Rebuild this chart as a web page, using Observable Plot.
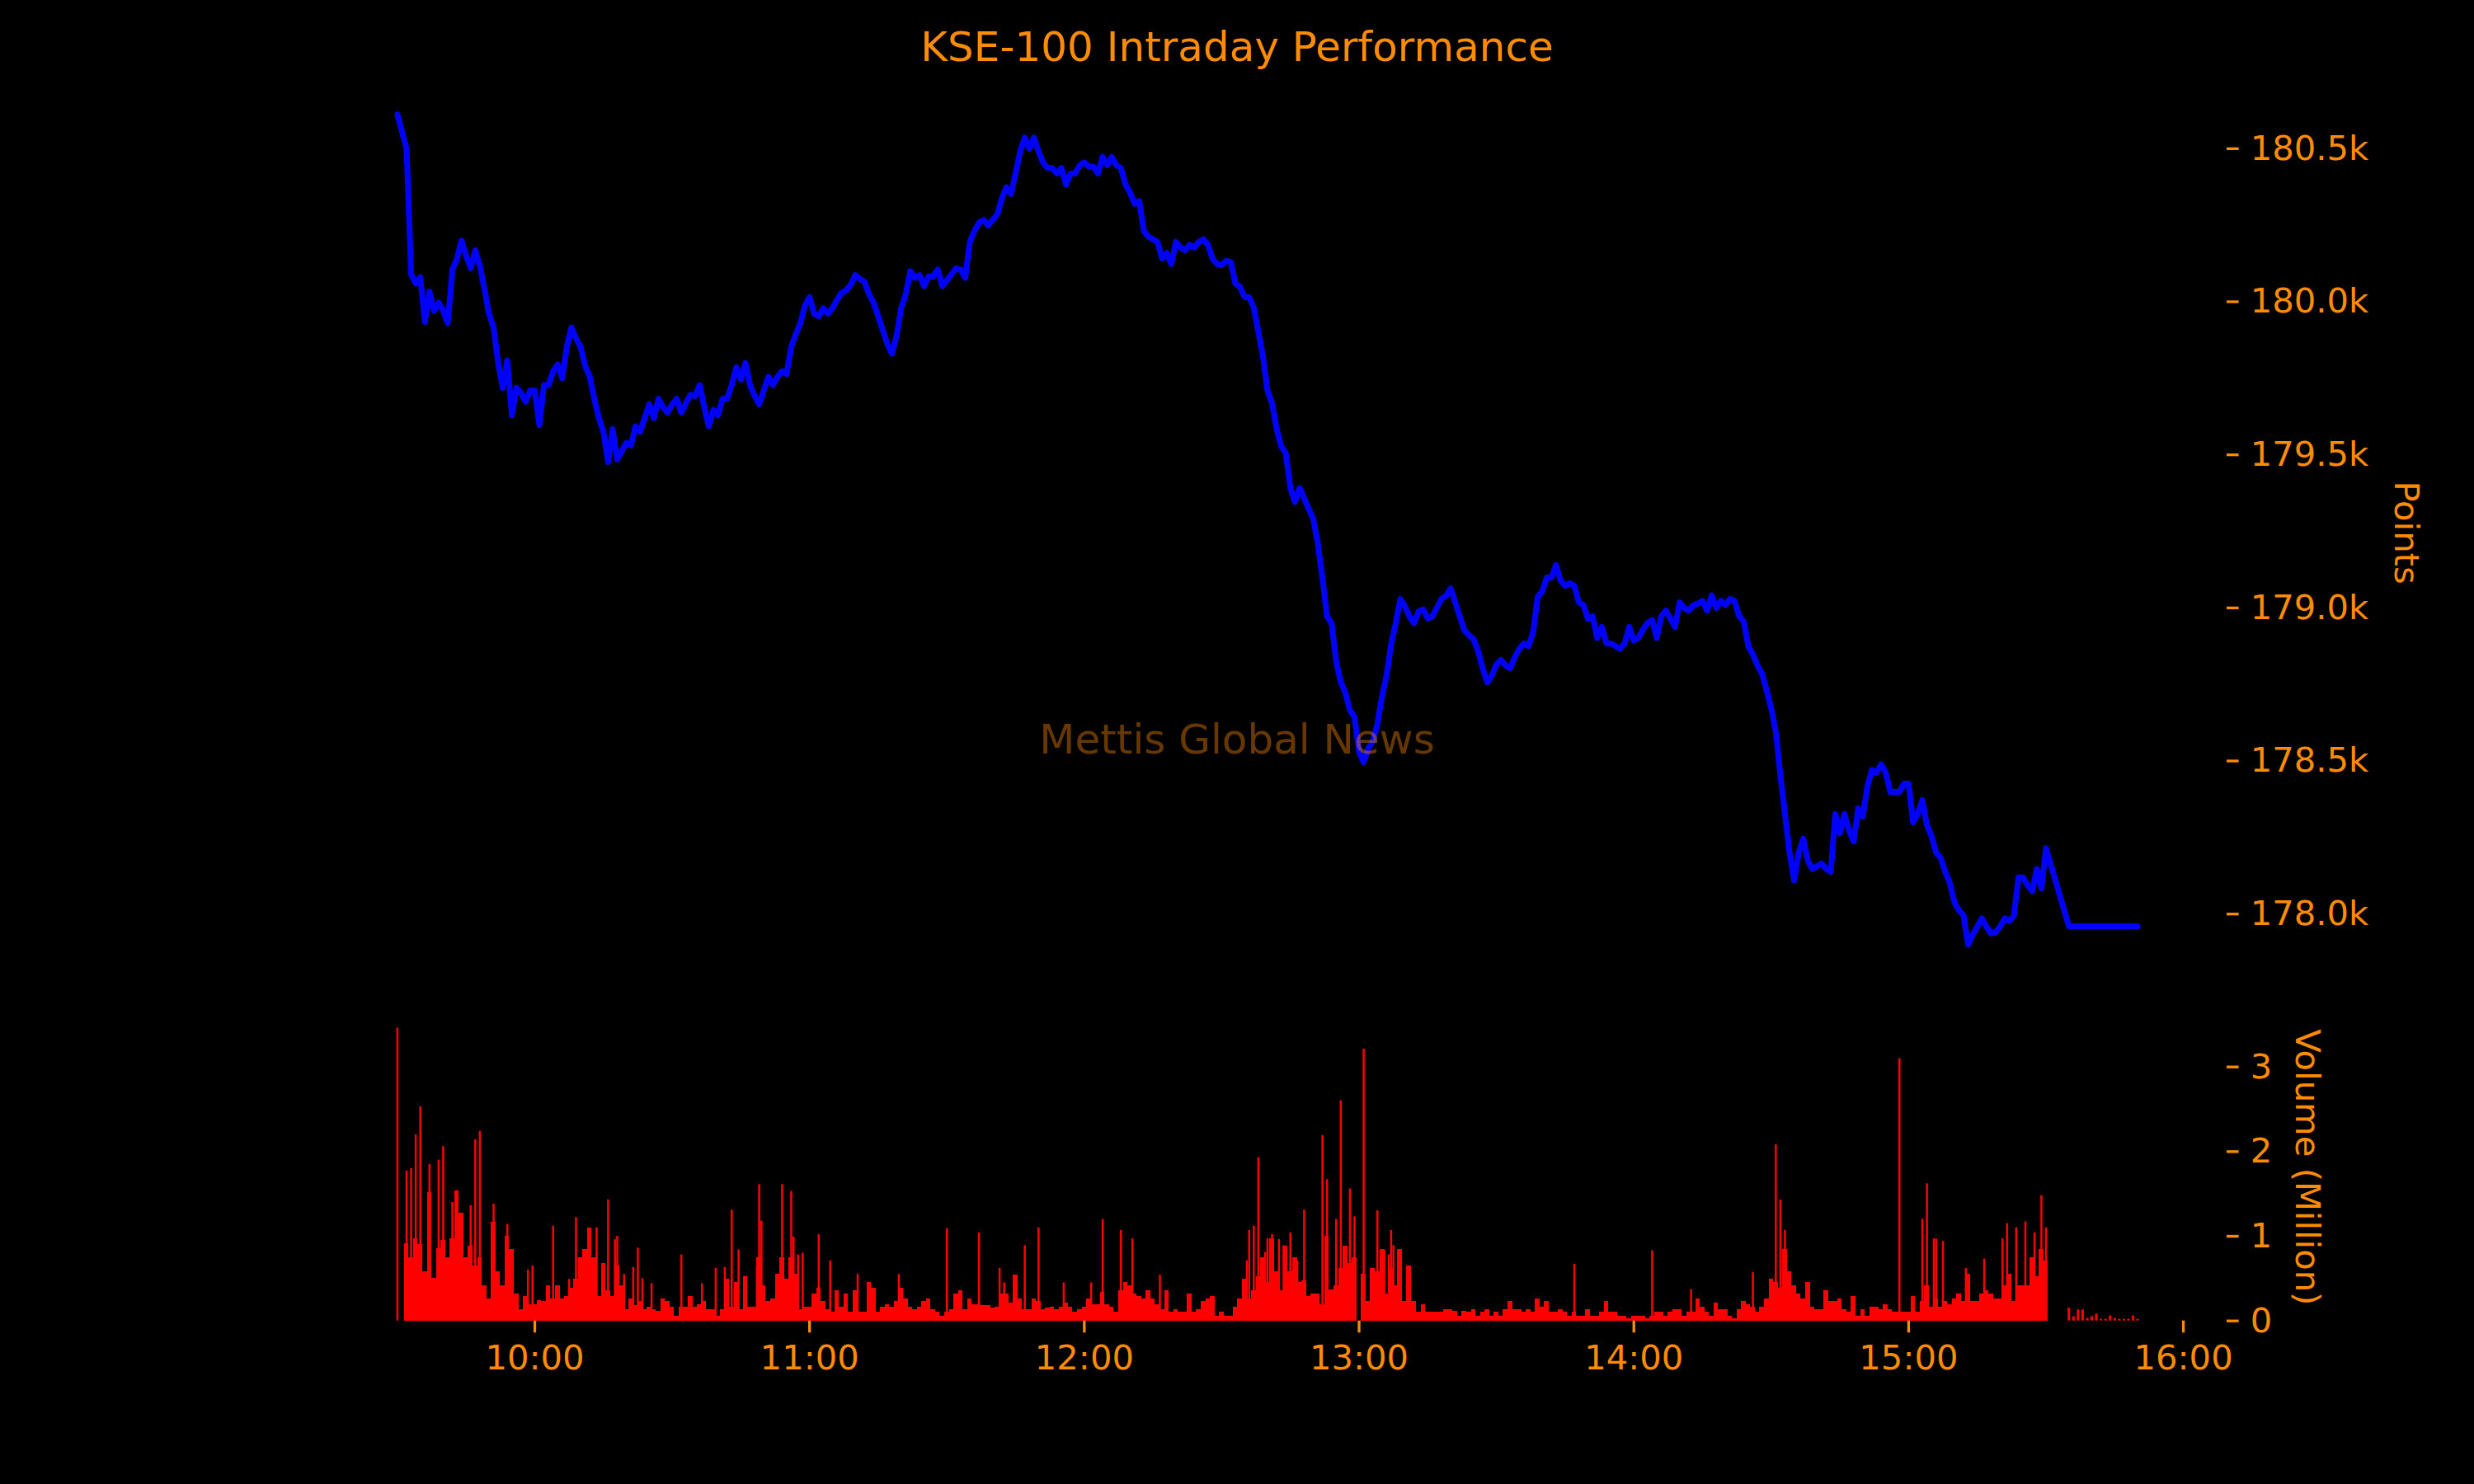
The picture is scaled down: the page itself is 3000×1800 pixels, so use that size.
<!DOCTYPE html>
<html>
<head>
<meta charset="utf-8">
<script src="https://cdn.jsdelivr.net/npm/d3@7"></script>
<script src="https://cdn.jsdelivr.net/npm/@observablehq/plot@0.6"></script>
<style>
html,body{margin:0;padding:0;background:#000;}
#chart{position:relative;width:3000px;height:1800px;background:#000;overflow:hidden;font-family:"DejaVu Sans";}
#title{position:absolute;left:0;width:3000px;top:27px;text-align:center;font-size:50px;line-height:60px;color:#ff8c00;z-index:3;}
#watermark{position:absolute;left:0;width:3000px;top:867px;text-align:center;font-size:50px;line-height:60px;color:#ff8c00;opacity:0.4;z-index:3;}
#price,#volume{position:absolute;left:0;}
#price{top:0;}
#volume{top:1215px;}
</style>
</head>
<body>
<div id="chart">
  <div id="price"></div>
  <div id="volume"></div>
  <div id="title">KSE-100 Intraday Performance</div>
  <div id="watermark">Mettis Global News</div>
</div>
<script>
// ---------------- DATA ----------------
const openTime = "09:30";
const openPrice = 180612;
const sessionStart = "09:32"; // one value per minute from 09:32 to 15:30
const sessionPrice = [
180500,180090,180060,180080,179934,180033,179970,179997,179970,179930,
180105,180140,180200,180150,180110,180168,180118,180042,179961,179916,
179800,179719,179808,179629,179719,179701,179674,179710,179710,179597,
179728,179728,179773,179795,179750,179853,179916,179880,179853,179790,
179755,179683,179620,179575,179476,179584,179485,179512,179539,179530,
179593,179575,179620,179665,179620,179683,179656,179638,179665,179683,
179638,179669,179696,179692,179728,179656,179593,179647,179629,179683,
179683,179728,179786,179746,179800,179728,179692,179665,179710,179755,
179728,179755,179773,179764,179853,179894,179930,179988,180015,179961,
179952,179979,179961,179979,180006,180029,180038,180056,180087,180074,
180065,180024,179997,179952,179907,179862,179830,179889,179979,180024,
180100,180078,180087,180051,180083,180083,180105,180051,180070,180090,
180109,180105,180078,180195,180231,180258,180267,180249,180267,180285,
180338,180374,180352,180419,180491,180536,180500,180536,180491,180455,
180437,180437,180419,180437,180383,180419,180419,180446,180455,180441,
180441,180419,180473,180446,180473,180446,180437,180383,180356,180320,
180329,180231,180213,180204,180195,180141,180159,180123,180195,180177,
180168,180186,180177,180195,180204,180186,180141,180123,180120,180134,
180129,180060,180049,180015,180015,179981,179902,179822,179709,179669,
179584,179528,179505,179392,179346,179392,179358,179324,179290,179210,
179097,178972,178950,178825,178757,178723,178666,178643,178530,178496,
178541,178564,178621,178711,178779,178881,178950,179029,179006,178972,
178950,178989,178995,178966,178972,179001,179029,179040,179063,179018,
178972,178927,178910,178898,178859,178802,178757,178779,178815,178830,
178812,178803,178839,178866,178884,178875,178920,179036,179054,179099,
179099,179140,179090,179072,179081,179072,179018,179009,178964,178973,
178902,178938,178884,178884,178875,178866,178884,178938,178893,178902,
178929,178951,178960,178902,178973,178991,178964,178938,179018,179000,
178991,179009,179014,179023,178991,179041,179000,179023,179009,179029,
179023,178973,178956,178875,178848,178812,178785,178731,178672,178596,
178453,178327,178201,178110,178201,178246,178174,178147,178156,178165,
178147,178138,178327,178264,178327,178273,178237,178345,178318,178417,
178471,178462,178489,178462,178399,178399,178399,178426,178426,178300,
178327,178372,178291,178255,178201,178183,178138,178102,178039,178012,
177995,177900,177932,177959,177986,177959,177936,177941,177959,177986,
177977,177995,178120,178120,178093,178075,178147,178084,178215
];
const closeTimes = ["15:35","15:50"];
const closePrices = [177960,177960];

// Volume (million shares), one value per minute from 09:32 to 15:30
const sessionVolume = [
0.91,0.75,0.97,0.9,0.58,1.52,0.5,0.85,0.95,0.75,
0.97,1.54,1.27,0.75,0.88,0.65,0.75,0.42,0.26,1.17,
0.58,0.42,1.0,0.84,0.32,0.13,0.29,0.19,0.19,0.24,
0.23,0.42,0.26,0.42,0.26,0.29,0.39,0.49,0.75,0.84,
1.1,0.75,0.29,0.68,0.36,0.29,0.65,0.42,0.13,0.26,
0.18,0.23,0.13,0.16,0.13,0.11,0.26,0.23,0.16,0.06,
0.16,0.16,0.29,0.16,0.19,0.23,0.13,0.13,0.06,0.13,
0.49,0.16,0.45,0.13,0.52,0.16,0.16,0.75,0.42,0.23,
0.26,0.55,0.75,0.49,0.75,0.55,0.13,0.16,0.16,0.32,
0.39,0.23,0.13,0.1,0.36,0.16,0.32,0.1,0.36,0.1,
0.1,0.45,0.39,0.1,0.16,0.19,0.16,0.23,0.39,0.26,
0.16,0.13,0.16,0.23,0.26,0.13,0.1,0.06,0.1,0.13,
0.32,0.36,0.13,0.26,0.19,0.19,0.18,0.18,0.15,0.16,
0.32,0.32,0.21,0.54,0.26,0.13,0.13,0.26,0.23,0.13,
0.15,0.16,0.13,0.16,0.21,0.16,0.1,0.13,0.16,0.26,
0.19,0.19,0.34,0.19,0.16,0.1,0.36,0.45,0.42,0.32,
0.29,0.26,0.36,0.26,0.19,0.13,0.36,0.1,0.13,0.1,
0.1,0.32,0.1,0.13,0.23,0.26,0.29,0.06,0.1,0.06,
0.06,0.16,0.26,0.49,0.26,0.36,0.52,0.75,0.45,0.97,
0.58,0.36,0.88,0.58,0.75,0.45,0.47,0.29,0.32,0.32,
0.19,1.0,0.37,0.42,0.62,0.88,0.68,0.75,0,0.55,
0.23,0.62,0.58,0.84,0.32,0.62,0.42,0.84,0.23,0.65,
0.23,0.1,0.19,0.1,0.1,0.1,0.1,0.13,0.13,0.11,
0.06,0.11,0.1,0.13,0.06,0.1,0.13,0.06,0.1,0.06,
0.13,0.23,0.13,0.13,0.1,0.13,0.1,0.26,0.16,0.23,
0.1,0.1,0.13,0.1,0.06,0.1,0.06,0.06,0.13,0.06,
0.06,0.1,0.23,0.1,0.1,0.06,0.06,0.03,0.06,0.06,
0.06,0.03,0.06,0.1,0.1,0.06,0.1,0.13,0.13,0.06,
0.1,0.1,0.26,0.16,0.1,0.06,0.21,0.13,0.13,0.06,
0.03,0.13,0.23,0.19,0.16,0.1,0.16,0.26,0.49,0.45,
0.39,0.84,0.58,0.42,0.32,0.26,0.45,0.16,0.13,0.13,
0.36,0.23,0.23,0.26,0.13,0.1,0.29,0.06,0.13,0.06,
0.16,0.16,0.13,0.19,0.13,0.1,0.1,0.1,0.1,0.29,
0.1,0.23,0.42,0.16,0.26,0.16,0.23,0.19,0.26,0.32,
0.23,0.55,0.23,0.23,0.32,0.36,0.32,0.26,0.26,0.42,
0.55,0.23,0.42,0.42,0.42,0.75,0.52,0.84,0.71
];
// Individual large trades (time, million shares)
const spikeTimes = ["09:30","09:32","09:33","09:34","09:35","09:37","09:39","09:40","09:42","09:43",
  "09:46","09:47","09:48","09:51","09:54","10:04","10:09","10:16","10:18","10:32",
  "10:43","10:49","10:54","10:56","11:02","11:30","11:37","11:47","11:50","12:04",
  "12:08","12:36","12:37","12:38","12:40","12:41","12:45","12:48","12:52","12:53",
  "12:55","12:56","12:58","12:59","13:01","13:04","13:07","13:47","14:04","14:26",
  "14:31","14:32","14:33","14:58","15:03","15:04","15:06","15:29","15:30"];
const spikeVolume = [3.46,1.77,1.80,2.2,2.53,1.85,1.90,2.06,1.40,1.54,
  1.36,2.14,2.24,1.38,1.14,1.12,1.22,1.43,1.00,0.78,
  1.31,1.61,1.61,1.53,1.02,1.09,1.04,0.89,1.10,1.20,
  1.07,1.07,1.12,1.93,0.97,1.02,1.04,1.31,2.19,1.67,
  1.20,2.60,1.56,1.23,3.21,1.30,1.07,0.67,0.83,0.57,
  2.08,1.43,1.07,3.10,1.20,1.62,0.97,1.48,1.10];
// Medium-size trades (time, million shares)
const midTimes = ["09:58:30","09:59:30","10:07:30","10:13:30","10:17:30","10:19:30","10:21:30","10:22:30","10:23:30","10:25:30",
  "10:36:30","10:39:30","10:41:30","10:44:30","10:48:30","10:49:30","10:56:30","10:57:30","10:58:30","11:04:30",
  "11:10:30","11:19:30","11:41:30","11:42:30","11:55:30","12:01:30","12:10:30","12:16:30","12:35:30","12:39:30",
  "12:42:30","12:43:30","12:46:30","13:05:30","13:06:30","13:07:30","13:08:30","13:10:30","14:12:30","15:05:30",
  "15:07:30","15:12:30","15:16:30","15:20:30","15:21:30","15:23:30","15:25:30","15:27:30"];
const midVolume = [0.6,0.65,0.49,1.1,0.96,0.55,0.63,0.86,0.5,0.44,
  0.44,0.62,0.63,0.84,0.63,1.18,0.99,0.78,0.8,0.71,
  0.55,0.55,0.62,0.45,0.45,0.45,0.97,0.54,0.71,0.81,
  0.96,0.89,0.71,0.84,0.78,0.89,0.84,0.65,0.37,0.97,
  0.94,0.62,0.73,0.97,1.15,1.1,1.17,1.04];
// After-close trades, one per minute from 15:35 to 15:50
const postStart = "15:35";
const postVolume = [0.15,0.05,0.13,0.13,0.03,0.05,0.08,0.02,0.02,0.06,0.03,0.02,0.02,0.02,0.06,0.02];

const priceTicks = [178000,178500,179000,179500,180000,180500];
const volumeTicks = [0,1,2,3];
const hourTicks = ["10:00","11:00","12:00","13:00","14:00","15:00","16:00"];

// ---------------- BUILD ----------------
const T = s => { const [h,m,sec] = s.split(":").map(Number); return new Date(Date.UTC(2025,0,1,h,m,sec||0)); };
const addMin = (d,k) => new Date(+d + k*60000);

const priceData = [
  {t:T(openTime), v:openPrice},
  ...sessionPrice.map((v,i)=>({t:addMin(T(sessionStart),i), v})),
  ...closeTimes.map((s,i)=>({t:T(s), v:closePrices[i]}))
];
const volData = sessionVolume.map((v,i)=>({t:addMin(T(sessionStart),i), v}));
const spikeData = spikeTimes.map((s,i)=>({t:T(s), v:spikeVolume[i]}))
  .concat(midTimes.map((s,i)=>({t:T(s), v:midVolume[i]})));
const postData = postVolume.map((v,i)=>({t:addMin(T(postStart),i), v}));

const orange = "#ff8c00";
const xDomain = [T("09:11:01"), T("16:09:21")];
const common = {
  width:3000, marginLeft:376, marginRight:301,
  style:{background:"transparent", color:orange, fontFamily:"DejaVu Sans", fontSize:"41.7px", overflow:"visible"}
};

const pricePlot = Plot.plot({
  ...common, height:1215, marginTop:87, marginBottom:11,
  x:{type:"utc", domain:xDomain, axis:null},
  y:{domain:[177742,180750], axis:null},
  marks:[
    Plot.line(priceData,{x:"t", y:"v", stroke:"#0000ff", strokeWidth:7, strokeLinejoin:"round"}),
    Plot.axisY({anchor:"right", ticks:priceTicks, tickFormat:d=>(d/1000).toFixed(1)+"k",
      tickSize:14.6, tickPadding:14.6, strokeWidth:3.3, label:null, fontSize:41.7}),
    Plot.text(["Points"],{frameAnchor:"right", dx:218, rotate:90, textAnchor:"middle",
      fill:orange, fontSize:41.7, text:d=>d})
  ]
});
document.getElementById("price").appendChild(pricePlot);

const volumePlot = Plot.plot({
  ...common, height:585, marginTop:14, marginBottom:198.3,
  x:{type:"utc", domain:xDomain, axis:null},
  y:{domain:[0,3.63], axis:null},
  marks:[
    Plot.rectY(volData,{x1:d=>addMin(d.t,-0.5), x2:d=>addMin(d.t,0.5), y:"v", fill:"#ff0000", shapeRendering:"crispEdges"}),
    Plot.ruleX(spikeData,{x:"t", y1:0, y2:"v", stroke:"#ff0000", strokeWidth:2.5}),
    Plot.ruleX(postData,{x:"t", y1:0, y2:"v", stroke:"#ff0000", strokeWidth:3}),
    Plot.axisY({anchor:"right", ticks:volumeTicks, tickFormat:d=>String(d),
      tickSize:14.6, tickPadding:14.6, strokeWidth:3.3, label:null, fontSize:41.7}),
    Plot.axisX({anchor:"bottom", ticks:hourTicks.map(T), tickFormat:d3.utcFormat("%H:%M"),
      tickSize:14.6, tickPadding:14.6, strokeWidth:3.3, label:null, fontSize:41.7}),
    Plot.text(["Volume (Million)"],{frameAnchor:"right", dx:98, rotate:90, textAnchor:"middle",
      fill:orange, fontSize:41.7, text:d=>d})
  ]
});
document.getElementById("volume").appendChild(volumePlot);
</script>
</body>
</html>
